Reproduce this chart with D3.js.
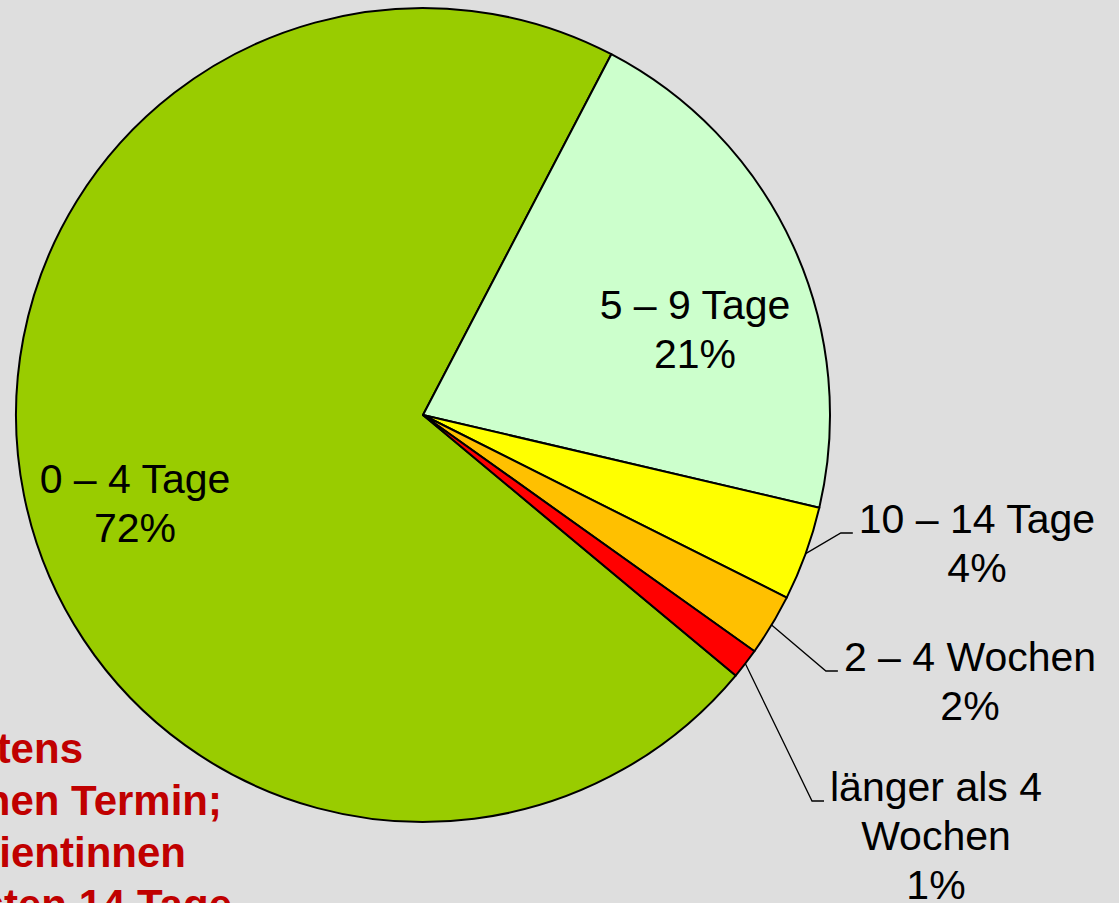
<!DOCTYPE html>
<html>
<head>
<meta charset="utf-8">
<script src="https://cdn.jsdelivr.net/npm/d3@7"></script>
<style>
  html, body { margin: 0; padding: 0; background: #dedede; overflow: hidden; }
  text { font-family: "Liberation Sans", Arial, sans-serif; }
</style>
</head>
<body>
<div id="main"></div>
<script>
var ctx = {
    w: 1119,
    h: 903,
    cx: 423,
    cy: 415,
    r: 407
};

// data (percent of patients)
var categories = ["0 – 4 Tage", "5 – 9 Tage", "10 – 14 Tage", "2 – 4 Wochen", "länger als 4 Wochen"];
var values = [71.6, 21.0, 3.75, 2.45, 1.2];
var pctLabels = ["72%", "21%", "4%", "2%", "1%"];
var labelLines = [["0 – 4 Tage"], ["5 – 9 Tage"], ["10 – 14 Tage"], ["2 – 4 Wochen"], ["länger als 4", "Wochen"]];
var colors = ["#99cc00", "#ccffcc", "#ffff00", "#ffc000", "#ff0000"];
var noteLines = ["Patientinnen erhalten spätestens", "nach 4 Tagen einen Termin;", "97% der Patientinnen", "innerhalb der ersten 14 Tage"];

// layout: label centre x / first baseline y, and whether it sits outside with a leader
var labelLayout = [
    {x: 135, y: 493, outside: false},
    {x: 695, y: 319, outside: false},
    {x: 977, y: 533, outside: true},
    {x: 970, y: 671, outside: true},
    {x: 936, y: 801, outside: true}
];

var createViz = function(){
    var svg = d3.select("#main").append("svg")
        .attr("width", ctx.w)
        .attr("height", ctx.h);

    svg.append("rect").attr("width", ctx.w).attr("height", ctx.h).attr("fill", "#dedede");

    var start = 129.8 * Math.PI / 180;
    var pie = d3.pie().sort(null).value(function(d){ return d; })
        .startAngle(start).endAngle(start + 2 * Math.PI);
    var arcs = pie(values);

    var arc = d3.arc().innerRadius(0).outerRadius(ctx.r);
    var outer = d3.arc().innerRadius(ctx.r).outerRadius(ctx.r);

    var g = svg.append("g").attr("transform", "translate(" + ctx.cx + "," + ctx.cy + ")");
    g.selectAll("path")
        .data(arcs)
        .enter()
        .append("path")
        .attr("d", arc)
        .attr("fill", function(d, i){ return colors[i]; })
        .attr("stroke", "#000")
        .attr("stroke-width", 2)
        .attr("stroke-linejoin", "round");

    var fs = 41, lh = 49;
    var labels = svg.append("g").attr("class", "labels");
    arcs.forEach(function(d, i){
        var lay = labelLayout[i];
        var lines = labelLines[i].concat([pctLabels[i]]);
        var t = labels.append("text")
            .attr("text-anchor", "middle")
            .attr("font-size", fs)
            .attr("fill", "#000");
        lines.forEach(function(s, k){
            t.append("tspan").attr("x", lay.x).attr("y", lay.y + k * lh).text(s);
        });
        if (lay.outside) {
            var firstW = t.select("tspan").node().getComputedTextLength();
            var left = lay.x - firstW / 2 - 6;
            var p = outer.centroid(d);
            var x0 = ctx.cx + p[0], y0 = ctx.cy + p[1];
            var bendX = left - 12;
            labels.append("path")
                .attr("d", "M" + x0 + "," + y0 + "L" + bendX + "," + lay.y + "L" + left + "," + lay.y)
                .attr("fill", "none")
                .attr("stroke", "#000")
                .attr("stroke-width", 1.3);
        }
    });

    // red note at the bottom left, cut by the frame edge
    var noteEnds = [83, 222, 186, 232];
    var note = svg.append("text")
        .attr("font-size", 42)
        .attr("font-weight", "bold")
        .attr("fill", "#c00000")
        .attr("text-anchor", "end");
    noteLines.forEach(function(s, k){
        note.append("tspan").attr("x", noteEnds[k]).attr("y", 763 + k * 52).text(s);
    });
};

createViz();
</script>
</body>
</html>
